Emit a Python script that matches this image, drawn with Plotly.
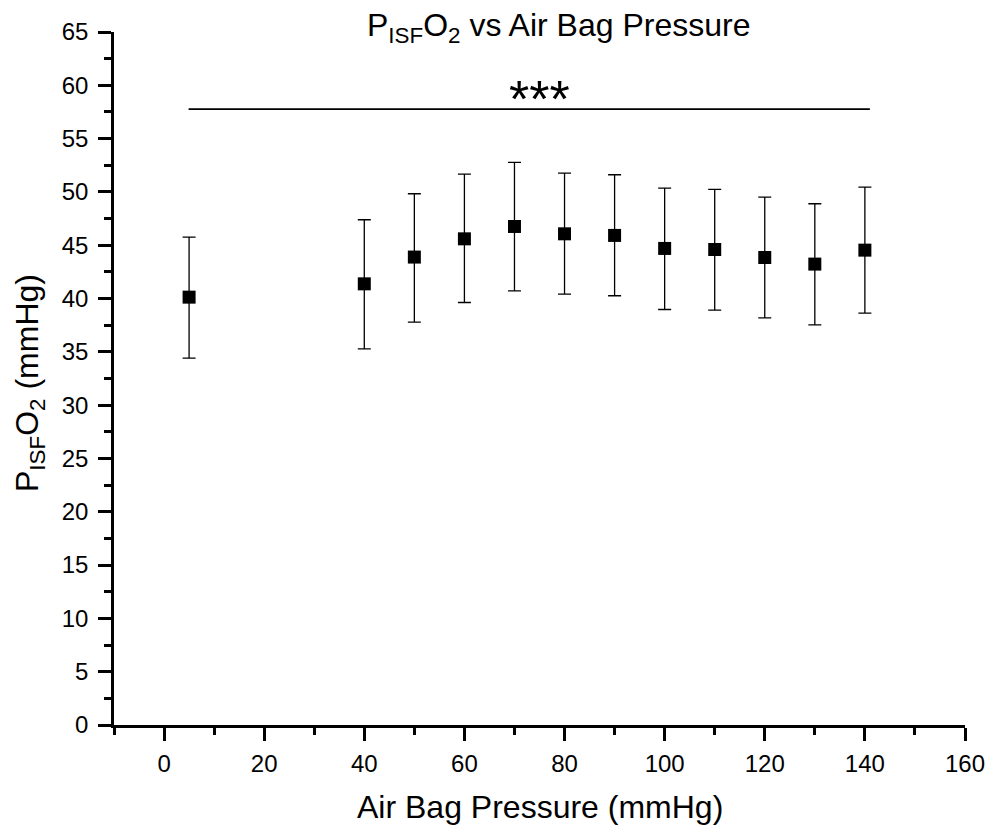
import plotly.graph_objects as go

pressure = [5, 40, 50, 60, 70, 80, 90, 100, 110, 120, 130, 140]
pisfo2 = [40.13, 41.38, 43.89, 45.60, 46.76, 46.07, 45.92, 44.70, 44.60, 43.85, 43.23, 44.54]
err_upper = [45.76, 47.39, 49.83, 51.67, 52.77, 51.76, 51.61, 50.36, 50.23, 49.52, 48.89, 50.45]
err_lower = [34.41, 35.28, 37.79, 39.63, 40.72, 40.41, 40.26, 38.97, 38.91, 38.19, 37.53, 38.63]

sig_x = [4.9, 141]
sig_y = [57.77, 57.77]
sig_label = "***"
sig_label_x = 74.9
sig_label_y = 58.7

x_ticks = [0, 20, 40, 60, 80, 100, 120, 140, 160]
y_ticks = list(range(0, 70, 5))

plus = [u - v for u, v in zip(err_upper, pisfo2)]
minus = [v - l for v, l in zip(pisfo2, err_lower)]

FONT = "Arial, 'Liberation Sans', sans-serif"

fig = go.Figure()
fig.add_trace(go.Scatter(
    x=pressure, y=pisfo2, mode="markers",
    marker=dict(symbol="square", size=13, color="black", line=dict(width=0)),
    error_y=dict(type="data", symmetric=False, array=plus, arrayminus=minus,
                 color="black", thickness=1.3, width=6.5),
    showlegend=False,
))
fig.add_trace(go.Scatter(
    x=sig_x, y=sig_y, mode="lines", line=dict(color="black", width=1.6),
    showlegend=False, hoverinfo="skip",
))

fig.add_annotation(x=sig_label_x, y=sig_label_y, xref="x", yref="y",
                   text=sig_label, showarrow=False,
                   font=dict(family=FONT, size=52, color="black"))

L, R, T, B = 114, 23, 32, 100
W, H = 988, 825
ph = H - T - B

def ypaper(py):
    return (H - B - py) / ph

fig.add_annotation(x=(558 - L) / (W - L - R), y=ypaper(28), xref="paper", yref="paper",
                   text="P<sub>ISF</sub>O<sub>2</sub> vs Air Bag Pressure",
                   showarrow=False, xanchor="center", yanchor="middle",
                   font=dict(family=FONT, size=32, color="black"))
fig.add_annotation(x=0.5, y=ypaper(807), xref="paper", yref="paper",
                   text="Air Bag Pressure (mmHg)", showarrow=False,
                   xanchor="center", yanchor="middle",
                   font=dict(family=FONT, size=32, color="black"))
fig.add_annotation(x=(29 - L) / (W - L - R), y=ypaper(383), xref="paper", yref="paper",
                   text="P<sub>ISF</sub>O<sub>2</sub> (mmHg)", showarrow=False,
                   textangle=-90, xanchor="center", yanchor="middle",
                   font=dict(family=FONT, size=32, color="black"))

axis_common = dict(
    showgrid=False, zeroline=False, showline=True, linecolor="black", linewidth=2.5,
    ticks="outside", ticklen=13, tickwidth=2.5, tickcolor="black",
    tickfont=dict(family=FONT, size=24, color="black"),
    mirror=False, automargin=False,
)
fig.update_xaxes(range=[-10, 160], tickvals=x_ticks, ticklabelstandoff=2,
                 minor=dict(ticks="outside", ticklen=7, tickwidth=2.5, tickcolor="black", dtick=10, tick0=0),
                 **axis_common)
fig.update_yaxes(range=[0, 65], tickvals=y_ticks, ticklabelstandoff=5,
                 minor=dict(ticks="outside", ticklen=7, tickwidth=2.5, tickcolor="black", dtick=2.5, tick0=0),
                 **axis_common)

fig.update_layout(
    width=W, height=H,
    margin=dict(l=L, r=R, t=T, b=B, pad=0, autoexpand=False),
    plot_bgcolor="white", paper_bgcolor="white",
    font=dict(family=FONT, color="black"),
)

fig.write_html("out.html")
